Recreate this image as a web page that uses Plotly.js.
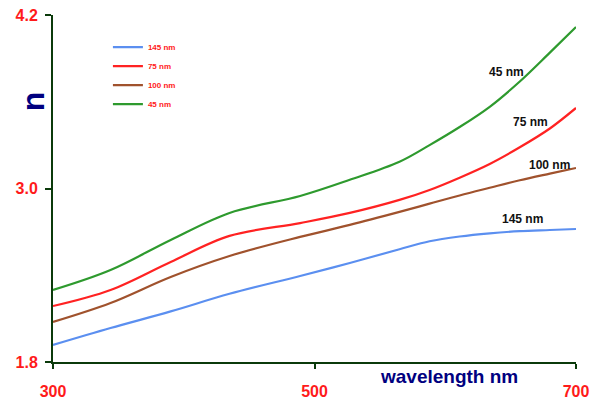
<!DOCTYPE html>
<html><head><meta charset="utf-8">
<script src="https://cdn.plot.ly/plotly-3.0.1.min.js"></script>
<style>html,body{margin:0;padding:0;background:#fff}#c{width:590px;height:403px}</style>
</head><body><div id="c"></div>
<script>
var wavelength = [300, 344, 390, 435, 489, 527, 565, 588, 611, 634, 657, 680, 700];
var n145 = [1.918, 2.035, 2.150, 2.272, 2.395, 2.485, 2.580, 2.635, 2.668, 2.690, 2.705, 2.713, 2.720];
var n75  = [2.187, 2.298, 2.492, 2.672, 2.761, 2.831, 2.921, 2.990, 3.075, 3.170, 3.285, 3.415, 3.557];
var n100 = [2.077, 2.208, 2.388, 2.533, 2.665, 2.748, 2.838, 2.895, 2.952, 3.005, 3.057, 3.103, 3.142];
var n45  = [2.298, 2.436, 2.644, 2.831, 2.948, 3.060, 3.185, 3.300, 3.425, 3.565, 3.740, 3.940, 4.117];
var seriesNames = ['145 nm', '75 nm', '100 nm', '45 nm'];
var xTicks = [300, 500, 700];
var xTickText = ['300', '500', '700'];
var yTicks = [1.8, 3.0, 4.2];
var yTickText = ['1.8', '3.0', '4.2'];

var colors = ['#5b8ff0', '#ff2222', '#a0522d', '#2e9a2e'];
var ys = [n145, n75, n100, n45];
var traces = ys.map(function(y, i){
  return {x: wavelength, y: y, name: seriesNames[i], type: 'scatter', mode: 'lines',
    line: {color: colors[i], width: 2.2, shape: 'spline', smoothing: 1.0}};
});
var F = 'Liberation Sans, Arial, sans-serif';
var lab = {family: F, size: 12, color: '#111', weight: 'bold'};
var layout = {
  width: 590, height: 403,
  margin: {l: 53, r: 14, t: 15, b: 41},
  paper_bgcolor: '#fff', plot_bgcolor: '#fff',
  showlegend: true,
  legend: {x: 0.105, y: 0.949, xanchor: 'left', yanchor: 'top', bgcolor: 'rgba(0,0,0,0)',
    font: {family: F, size: 8, color: '#ff1a1a', weight: 'bold'}, tracegroupgap: 0},
  xaxis: {range: [300, 700], tickvals: xTicks, ticktext: xTickText, showgrid: false, zeroline: false,
    showline: true, linecolor: '#0b3a0b', linewidth: 2, ticks: 'outside', ticklen: 5, tickwidth: 2,
    tickcolor: '#0b3a0b', ticklabelstandoff: 9,
    tickfont: {family: F, size: 16, color: '#ff1a1a', weight: 'bold'}},
  yaxis: {range: [1.8, 4.2], tickvals: yTicks, ticktext: yTickText, showgrid: false, zeroline: false,
    showline: true, linecolor: '#0b3a0b', linewidth: 2, ticks: 'outside', ticklen: 6, tickwidth: 2,
    tickcolor: '#0b3a0b', ticklabelstandoff: 4,
    tickfont: {family: F, size: 16, color: '#ff1a1a', weight: 'bold'}},
  annotations: [
    {xref: 'paper', yref: 'paper', x: -0.038, y: 0.752, xanchor: 'center', yanchor: 'middle',
      text: 'n', showarrow: false, textangle: -90,
      font: {family: F, size: 32, color: '#000080', weight: 'bold'}},
    {xref: 'paper', yref: 'paper', x: 0.757, y: -0.043, xanchor: 'center', yanchor: 'middle',
      text: 'wavelength nm', showarrow: false,
      font: {family: F, size: 19, color: '#000080', weight: 'bold'}},
    {x: 647, y: 3.806, xanchor: 'center', text: '45 nm', showarrow: false, font: lab},
    {x: 665, y: 3.46, xanchor: 'center', text: '75 nm', showarrow: false, font: lab},
    {x: 680, y: 3.163, xanchor: 'center', text: '100 nm', showarrow: false, font: lab},
    {x: 659, y: 2.789, xanchor: 'center', text: '145 nm', showarrow: false, font: lab}
  ]
};
Plotly.newPlot('c', traces, layout, {displayModeBar: false, staticPlot: true});
</script></body></html>
